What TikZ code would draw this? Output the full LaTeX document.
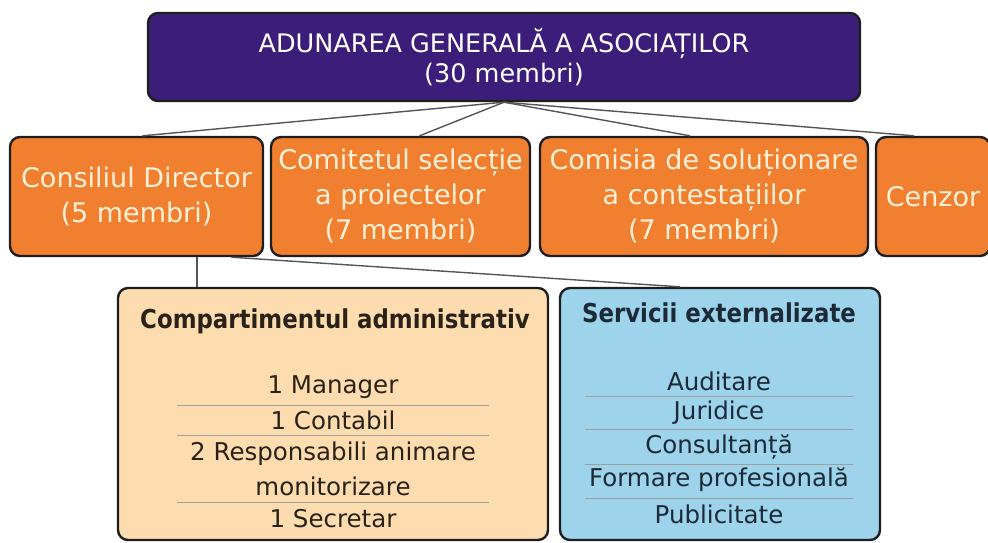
\documentclass[tikz,border=0pt]{standalone}
\usepackage{fontspec}
\setmainfont{DejaVu Sans}
\newfontfamily\ttlfont{DejaVu Sans}[FakeStretch=0.88]
\usetikzlibrary{calc}
\definecolor{purp}{HTML}{3C1E7A}
\definecolor{orng}{HTML}{F07F2F}
\definecolor{cream}{HTML}{FFF1D8}
\definecolor{peach}{HTML}{FDDDAF}
\definecolor{lblue}{HTML}{9DD3EB}
\definecolor{boxline}{HTML}{1E1E1E}
\definecolor{conn}{HTML}{555555}
\definecolor{txt}{HTML}{2A2218}
\definecolor{btxt}{HTML}{1C2A38}
\begin{document}
\begin{tikzpicture}[x=1pt,y=-1pt,
  box/.style={draw=boxline, line width=2.4pt, rounded corners=10pt, inner sep=0pt, align=center},
  topbox/.style={box, fill=purp, text=white, font=\fontsize{25.5}{30}\selectfont},
  orbox/.style={box, fill=orng, text=cream, minimum height=119pt, font=\fontsize{27}{35}\selectfont},
  lowbox/.style={box, minimum height=252pt},
  ttl/.style={inner sep=0pt, font=\ttlfont\bfseries\fontsize{26}{30}\selectfont},
  item/.style={inner sep=0pt, font=\fontsize{24.5}{30}\selectfont},
  divider/.style={draw=gray!75, line width=0.8pt},
  link/.style={draw=conn, line width=1.4pt}]
\useasboundingbox (0,0) rectangle (988,542);
\clip (0,0) rectangle (988,542);

\node[topbox, minimum width=712pt, minimum height=88pt] (agm) at (504,57) {ADUNAREA GENERALĂ A ASOCIAȚILOR\\(30 membri)};

\node[orbox, minimum width=253pt] (cd) at (136.5,196.5) {Consiliul Director\\(5 membri)};
\node[orbox, minimum width=259pt] (cs) at (400.5,196.5) {Comitetul selecție\\a proiectelor\\(7 membri)};
\node[orbox, minimum width=328pt] (cc) at (704,196.5) {Comisia de soluționare\\a contestațiilor\\(7 membri)};
\node[orbox, minimum width=114pt] (cz) at (933,196.5) {Cenzor};

\node[lowbox, fill=peach, minimum width=430pt] (ca) at (333,414) {};
\node[lowbox, fill=lblue, minimum width=320pt] (se) at (720,414) {};

\draw[link] (agm.south) -- ([xshift=6pt]cd.north);
\draw[link] (agm.south) -- ([xshift=19pt]cs.north);
\draw[link] (agm.south) -- ([xshift=-14pt]cc.north);
\draw[link] (agm.south) -- ([xshift=-19pt]cz.north);
\draw[link] ([xshift=60.5pt]cd.south) -- ([xshift=60.5pt]cd.south |- ca.north);
\draw[link] ([xshift=95pt]cd.south) -- ([xshift=-40pt]se.north);

% Compartimentul administrativ
\begin{scope}[every node/.append style={text=txt}]
\node[ttl] (cat) at (335,321) {Compartimentul administrativ};
\node[item] (c1) at (333,387) {1 Manager};
\node[item] (c2) at (333,420) {1 Contabil};
\node[item] (c3) at (333,454) {2 Responsabili animare};
\node[item] (c4) at (333,486) {monitorizare};
\node[item] (c5) at (333,519) {1 Secretar};
\end{scope}
\draw[divider] (177,405) -- (489,405);
\draw[divider] (177,435) -- (489,435);
\draw[divider] (177,502) -- (489,502);

% Servicii externalizate
\begin{scope}[every node/.append style={text=btxt}]
\node[ttl] (set) at (719,313) {Servicii externalizate};
\node[item] (s1) at (719,381) {Auditare};
\node[item] (s2) at (719,413) {Juridice};
\node[item] (s3) at (719,447) {Consultanță};
\node[item] (s4) at (719,480) {Formare profesională};
\node[item] (s5) at (719,514) {Publicitate};
\end{scope}
\draw[divider] (585,396) -- (853,396);
\draw[divider] (585,429) -- (853,429);
\draw[divider] (585,464) -- (853,464);
\draw[divider] (585,498) -- (853,498);
\end{tikzpicture}
\end{document}
